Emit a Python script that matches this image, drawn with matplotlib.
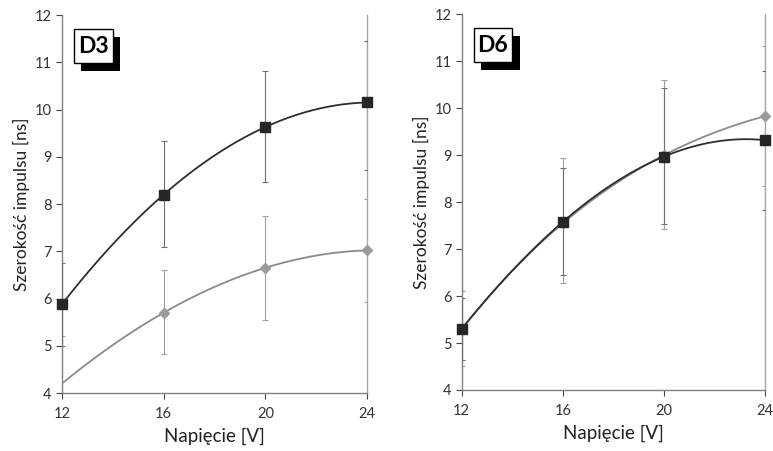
import numpy as np
import matplotlib.pyplot as plt
from matplotlib.patches import FancyBboxPatch

plt.rcParams['font.family'] = ['Lato', 'DejaVu Sans']

volt = [12, 16, 20, 24]
xticks = [12, 16, 20, 24]
yticks = [4, 5, 6, 7, 8, 9, 10, 11, 12]

# D3
d3_black = [5.88, 8.2, 9.63, 10.15]
d3_black_lo = [5.0, 7.08, 8.47, 8.72]
d3_black_hi = [6.76, 9.33, 10.82, 11.45]
d3_gray = [4.2, 5.7, 6.65, 7.02]
d3_gray_lo = [3.2, 4.82, 5.55, 5.93]
d3_gray_hi = [5.2, 6.6, 7.75, 8.1]

# D6
d6_black = [5.3, 7.58, 8.97, 9.32]
d6_black_lo = [4.64, 6.45, 7.53, 7.84]
d6_black_hi = [5.96, 8.72, 10.42, 10.8]
d6_gray = [5.3, 7.55, 9.0, 9.83]
d6_gray_lo = [4.5, 6.27, 7.42, 8.34]
d6_gray_hi = [6.1, 8.93, 10.6, 11.32]

panels = [
    ("D3", [0.0802, 0.1286, 0.3946, 0.838],
     (d3_black, d3_black_lo, d3_black_hi), (d3_gray, d3_gray_lo, d3_gray_hi), [1, 2, 3]),
    ("D6", [0.5973, 0.1353, 0.3924, 0.833],
     (d6_black, d6_black_lo, d6_black_hi), (d6_gray, d6_gray_lo, d6_gray_hi), [0, 1, 2, 3]),
]

fig = plt.figure(figsize=(7.73, 4.51), dpi=100)

for name, rect, black, gray, gray_marks in panels:
    ax = fig.add_axes(rect)
    xs = np.linspace(12, 24, 200)
    x = np.array(volt, dtype=float)

    for (vals, lo, hi), lc, mc, mk, ms, ec, z in [
        (gray, '#8a8a8a', '#9a9a9a', 'D', 5, '#a0a0a0', 3),
        (black, '#2e2e2e', '#262626', 's', 6.5, '#707070', 4),
    ]:
        v = np.array(vals)
        err = [v - np.array(lo), np.array(hi) - v]
        ax.errorbar(x, v, yerr=err, fmt='none', ecolor=ec, elinewidth=0.8,
                    capsize=2.5, capthick=0.8, zorder=z - 1, clip_on=True)
        coef = np.polyfit(x, v, 3)
        ax.plot(xs, np.polyval(coef, xs), color=lc, lw=1.3, zorder=z)
        marks = gray_marks if mk == 'D' else [0, 1, 2, 3]
        ax.plot(x[marks], v[marks], linestyle='none', marker=mk, ms=ms,
                color=mc, zorder=z + 1, clip_on=False)

    ax.set_xlim(12, 24)
    ax.set_ylim(4, 12)
    ax.set_xticks(xticks)
    ax.set_yticks(yticks)
    ax.tick_params(direction='out', length=4, width=0.8, colors='#444444',
                   labelsize=10.5, labelcolor='#333333')
    ax.tick_params(axis='x', pad=6)
    ax.spines['top'].set_visible(False)
    ax.spines['right'].set_color('#a8a8a8')
    ax.spines['right'].set_linewidth(1.0)
    for s in ['left', 'bottom']:
        ax.spines[s].set_color('#808080')
        ax.spines[s].set_linewidth(1.0)
    ax.set_xlabel("Napięcie [V]", fontsize=13.5, color='#222222', labelpad=5)
    ax.set_ylabel("Szerokość impulsu [ns]", fontsize=12.5, color='#222222', labelpad=3)

    # label box with drop shadow
    bx, by, bw, bh = 0.039, 0.873, 0.128, 0.09
    shadow = FancyBboxPatch((bx + 0.024, by - 0.02), bw, bh, boxstyle='square,pad=0',
                            transform=ax.transAxes, facecolor='black',
                            edgecolor='none', zorder=8, clip_on=False)
    box = FancyBboxPatch((bx, by), bw, bh, boxstyle='square,pad=0',
                         transform=ax.transAxes, facecolor='white',
                         edgecolor='black', lw=1.0, zorder=9, clip_on=False)
    ax.add_patch(shadow)
    ax.add_patch(box)
    ax.text(bx + bw / 2, by + bh / 2, name, transform=ax.transAxes, fontsize=16.5,
            fontweight='bold', ha='center', va='center', zorder=10)

fig.savefig("out.png", dpi=100)
